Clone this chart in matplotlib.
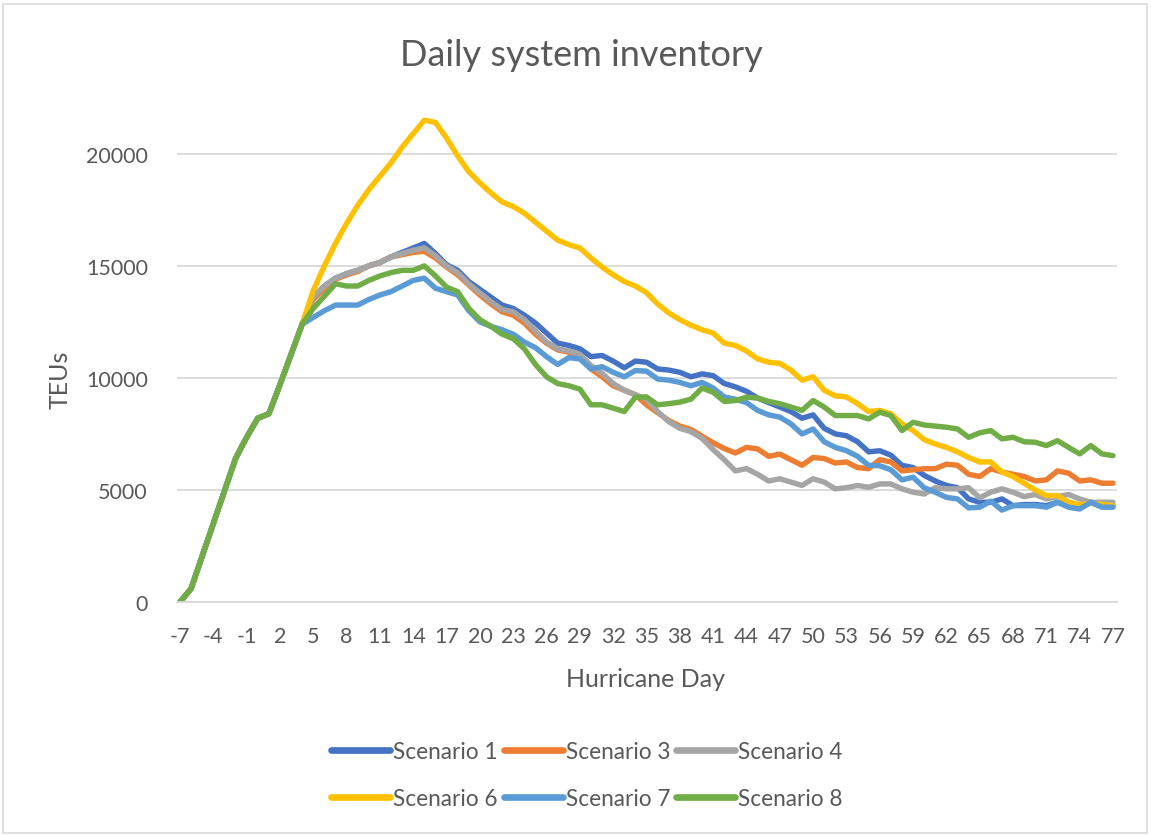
import matplotlib
matplotlib.use("Agg")
import matplotlib.pyplot as plt
from matplotlib.patches import Rectangle
import numpy as np

days = list(range(-7, 78))

rise = [0, 600, 2050, 3500, 4950, 6400, 7350, 8200, 8400, 9700, 11050]

s1 = rise + [12400, 13600, 14100, 14450, 14650, 14800, 15000, 15150, 15400, 15600,
             15800, 16000, 15550, 15050, 14800, 14300, 13950, 13600, 13250, 13100,
             12800, 12450, 12000, 11550, 11450, 11300, 10950, 11000, 10750, 10450,
             10750, 10700, 10400, 10350, 10250, 10050, 10180, 10100, 9750, 9600,
             9400, 9100, 8900, 8700, 8500, 8200, 8350, 7750, 7500, 7420,
             7150, 6700, 6750, 6550, 6100, 6000, 5650, 5400, 5200, 5100,
             4600, 4450, 4450, 4600, 4300, 4350, 4350, 4300, 4450, 4300,
             4200, 4450, 4300, 4300]

s3 = rise + [12400, 13500, 14000, 14400, 14600, 14750, 15000, 15150, 15400, 15500,
             15600, 15650, 15350, 14950, 14600, 14150, 13700, 13300, 12950, 12800,
             12450, 11950, 11550, 11250, 11150, 10950, 10400, 10050, 9650, 9450,
             9250, 8800, 8450, 8100, 7850, 7700, 7400, 7100, 6850, 6650,
             6900, 6830, 6500, 6600, 6350, 6100, 6450, 6400, 6200, 6250,
             6000, 5950, 6350, 6250, 5850, 5900, 5950, 5950, 6150, 6100,
             5700, 5600, 5950, 5800, 5700, 5600, 5400, 5450, 5850, 5750,
             5400, 5450, 5300, 5300]

s4 = rise + [12400, 13600, 14100, 14450, 14650, 14800, 15000, 15150, 15400, 15550,
             15700, 15800, 15450, 15000, 14700, 14200, 13800, 13400, 13050, 12950,
             12600, 12100, 11600, 11300, 11200, 11050, 10550, 10200, 9750, 9450,
             9250, 9050, 8500, 8050, 7750, 7600, 7300, 6800, 6350, 5850,
             5950, 5700, 5400, 5500, 5350, 5200, 5500, 5350, 5050, 5100,
             5200, 5120, 5270, 5270, 5050, 4900, 4820, 5100, 5050, 5050,
             5100, 4650, 4900, 5050, 4900, 4700, 4800, 4600, 4700, 4800,
             4600, 4450, 4450, 4450]

s6 = rise + [12400, 13900, 15000, 16000, 16900, 17700, 18400, 19000, 19600, 20300,
             20900, 21500, 21400, 20700, 19900, 19200, 18700, 18250, 17850, 17650,
             17350, 16950, 16550, 16150, 15950, 15800, 15350, 14950, 14600, 14300,
             14100, 13800, 13300, 12900, 12600, 12350, 12150, 12000, 11550, 11450,
             11200, 10850, 10700, 10650, 10350, 9900, 10050, 9450, 9200, 9150,
             8850, 8500, 8550, 8400, 7950, 7650, 7250, 7050, 6900, 6700,
             6450, 6250, 6250, 5800, 5600, 5300, 5000, 4750, 4750, 4450,
             4350, 4400, 4350, 4300]

s7 = rise + [12400, 12700, 13000, 13250, 13250, 13250, 13500, 13700, 13850, 14100,
             14350, 14450, 14000, 13850, 13700, 13000, 12500, 12300, 12150, 11950,
             11600, 11350, 10950, 10600, 10900, 10850, 10400, 10500, 10250, 10050,
             10330, 10300, 9950, 9900, 9800, 9650, 9800, 9550, 9150, 9050,
             8900, 8550, 8350, 8250, 7950, 7500, 7720, 7150, 6900, 6750,
             6500, 6100, 6080, 5900, 5450, 5570, 5100, 4900, 4670, 4600,
             4200, 4230, 4500, 4100, 4300, 4300, 4300, 4230, 4450, 4230,
             4150, 4450, 4230, 4230]

s8 = rise + [12400, 13100, 13650, 14200, 14100, 14100, 14350, 14550, 14700, 14800,
             14800, 15000, 14550, 14050, 13850, 13100, 12600, 12300, 11950, 11750,
             11300, 10600, 10050, 9750, 9650, 9500, 8800, 8800, 8650, 8500,
             9140, 9150, 8800, 8850, 8920, 9050, 9550, 9360, 8950, 8990,
             9140, 9100, 8950, 8850, 8700, 8550, 8990, 8700, 8320, 8320,
             8320, 8170, 8470, 8320, 7650, 8020, 7900, 7850, 7800, 7720,
             7350, 7550, 7650, 7280, 7350, 7150, 7130, 6980, 7200, 6900,
             6610, 6980, 6610, 6530]

series_names = ["Scenario 1", "Scenario 3", "Scenario 4", "Scenario 6", "Scenario 7", "Scenario 8"]
series_values = [s1, s3, s4, s6, s7, s8]
colors = ["#4472C4", "#ED7D31", "#A5A5A5", "#FFC000", "#5B9BD5", "#70AD47"]

y_ticks = [0, 5000, 10000, 15000, 20000]
x_ticks = list(range(-7, 78, 3))

FONT = ["Lato", "DejaVu Sans"]
TXT = "#595959"
GRID = "#D9D9D9"

W, H = 1151, 837
fig = plt.figure(figsize=(W / 100, H / 100), dpi=100)

# chart area border
fig.patches.append(Rectangle((3 / W, 3 / H), (W - 7) / W, (H - 8) / H,
                             transform=fig.transFigure, fill=False,
                             edgecolor=GRID, linewidth=1.2))

left, right, top, bottom = 177, 1117, 110, 603
ax = fig.add_axes([left / W, 1 - bottom / H, (right - left) / W, (bottom - top) / H])

handles = []
for name, vals, c in zip(series_names, series_values, colors):
    h, = ax.plot(days, vals, color=c, linewidth=3.9, solid_joinstyle="round",
                 solid_capstyle="round", label=name)
    handles.append(h)

per_day = (1113 - 180) / 84.0
ax.set_xlim(-7 - (180 - left) / per_day, 77 + (right - 1113) / per_day)
ax.set_ylim(0, 22000)
ax.set_yticks(y_ticks)
ax.set_yticklabels([str(v) for v in y_ticks])
ax.set_xticks(x_ticks)
ax.set_xticklabels([str(v) for v in x_ticks])
ax.tick_params(axis="both", length=0, colors=TXT, labelsize=15.5)
ax.tick_params(axis="x", pad=17)
ax.tick_params(axis="y", pad=21)
for lab in ax.get_xticklabels() + ax.get_yticklabels():
    lab.set_fontfamily(FONT)

ax.grid(axis="y", color=GRID, linewidth=1.3)
ax.set_axisbelow(True)
for s in ["top", "right", "left"]:
    ax.spines[s].set_visible(False)
ax.spines["bottom"].set_color(GRID)
ax.spines["bottom"].set_linewidth(1.3)

fig.text(0.5 * (402 + 760) / W, 1 - 55 / H, "Daily system inventory", ha="center", va="center",
         fontsize=26, color=TXT, family=FONT)
fig.text(646 / W, 1 - 680 / H, "Hurricane Day", ha="center", va="center",
         fontsize=18, color=TXT, family=FONT)
fig.text(60 / W, 1 - 380 / H, "TEUs", ha="center", va="center", rotation=90,
         fontsize=18, color=TXT, family=FONT)

order = [0, 3, 1, 4, 2, 5]
leg = fig.legend([handles[i] for i in order], [series_names[i] for i in order],
                 ncol=3, loc="center", bbox_to_anchor=(587 / W, 1 - 776 / H),
                 frameon=False, handlelength=2.6, handletextpad=0.15,
                 columnspacing=0.25, labelspacing=1.15,
                 prop={"family": FONT, "size": 16.3})
for t in leg.get_texts():
    t.set_color(TXT)
for lh in leg.get_lines():
    lh.set_linewidth(4.8)

fig.savefig("out.png", dpi=100)
